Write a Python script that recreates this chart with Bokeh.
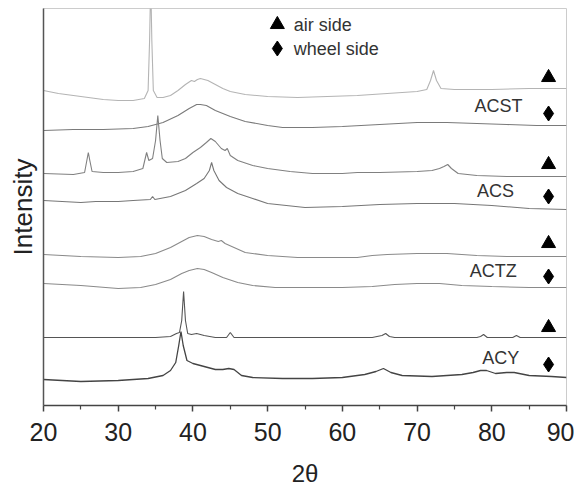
from bokeh.plotting import figure
from bokeh.models import Range1d, FixedTicker
from bokeh.embed import file_html
from bokeh.resources import INLINE
from bokeh.core.properties import value

# ---- data (2theta, intensity in arbitrary offset units) ----
acst_air_x = [20, 22, 25, 28, 30, 32, 33.5, 34.0, 34.2, 34.35, 34.5, 34.7, 35.2, 36, 37, 38, 39, 39.8, 40.2, 40.6, 41, 41.5, 42, 43, 44, 45, 47, 50, 54, 58, 62, 66, 70, 71.3, 71.8, 72.2, 72.6, 73.2, 75, 80, 85, 90]
acst_air_y = [315, 312, 309, 306, 305, 305, 307, 315, 365, 425, 365, 315, 308, 308, 310, 315, 321, 325, 324, 326, 327, 326, 325, 321, 317, 314, 311, 309, 308, 309, 310, 312, 314, 316, 325, 335, 325, 317, 316, 316, 317, 317]

acst_wheel_x = [20, 24, 28, 32, 34, 36, 38, 39.5, 40.5, 41, 41.8, 43, 45, 47, 50, 52, 56, 60, 65, 70, 74, 78, 82, 86, 90]
acst_wheel_y = [275, 276, 276, 277, 279, 283, 290, 297, 301, 301, 300, 295, 289, 284, 280, 278, 278, 279, 281, 283, 283, 282, 281, 280, 280]

acs_air_x = [20, 24, 25.5, 25.8, 26.0, 26.2, 26.5, 28, 30, 32, 33.3, 33.8, 34.1, 34.6, 35.0, 35.3, 35.6, 35.9, 36.5, 38, 39, 40, 41, 41.8, 42.4, 43, 43.8, 44.3, 44.6, 45, 46, 48, 50, 53, 56, 60, 62, 65, 70, 72, 73, 73.6, 74.1, 74.6, 75.5, 78, 82, 86, 90]
acs_air_y = [232, 231, 233, 245, 253, 245, 234, 233, 233, 234, 237, 253, 245, 247, 265, 290, 265, 247, 243, 244, 247, 253, 258, 263, 267, 264, 257, 255, 257, 250, 245, 240, 237, 234, 232, 232, 233, 233, 234, 235, 237, 239, 241, 237, 232, 230, 229, 229, 229]

acs_wheel_x = [20, 25, 27, 30, 32, 34.3, 34.6, 34.9, 37, 39, 40.5, 41.5, 42.2, 42.5, 42.8, 43.5, 44.5, 46, 48, 50, 55, 60, 65, 70, 75, 80, 85, 90]
acs_wheel_y = [205, 203, 204, 204, 205, 206, 209, 206, 209, 215, 222, 227, 235, 243, 235, 225, 218, 212, 207, 202, 198, 199, 201, 202, 202, 200, 197, 196]

actz_air_x = [20, 25, 30, 33, 35, 37, 38.5, 39.5, 40.6, 41.5, 42.5, 43.4, 43.8, 44.3, 45.5, 47, 50, 54, 58, 62, 64, 66, 70, 74, 78, 82, 86, 90]
actz_air_y = [151, 149, 148, 149, 152, 158, 164, 168, 170, 169, 166, 164, 165, 162, 158, 153, 150, 148, 148, 148, 150, 151, 152, 152, 150, 149, 149, 149]

actz_wheel_x = [20, 25, 30, 33, 35, 37, 38.5, 39.5, 40.6, 41.5, 42.5, 44, 46, 48, 51, 55, 60, 64, 67, 70, 73, 76, 80, 85, 90]
actz_wheel_y = [122, 120, 117, 118, 121, 126, 132, 135, 137, 136, 133, 128, 123, 120, 118, 118, 118, 119, 121, 122, 122, 120, 119, 118, 118]

acy_air_x = [20, 25, 30, 35, 37, 37.8, 38.2, 38.5, 38.75, 39.0, 39.3, 39.8, 40.5, 41.5, 43, 44.5, 45.0, 45.5, 48, 55, 60, 64, 65.3, 65.8, 66.3, 67, 72, 78, 78.5, 78.9, 79.4, 82.8, 83.3, 83.8, 87, 90]
acy_air_y = [68, 68, 68, 68, 69, 72, 73, 85, 114, 85, 72, 71, 72, 70, 68, 68, 73, 68, 68, 68, 68, 68, 70, 72, 69, 68, 68, 68, 69, 71, 68, 68, 70, 68, 68, 68]

acy_wheel_x = [20, 25, 30, 34, 36, 37, 37.7, 38.1, 38.4, 38.7, 39.2, 40, 41, 42, 43, 44, 44.8, 45.5, 46.5, 48, 52, 56, 60, 63, 64.5, 65.5, 66.5, 68, 72, 76, 77.5, 78.5, 79.3, 80.5, 82, 83, 85, 88, 90]
acy_wheel_y = [26, 24, 25, 27, 30, 35, 43, 60, 74, 60, 45, 42, 40, 38, 36, 36, 37, 36, 30, 28, 27, 27, 28, 31, 34, 37, 33, 30, 29, 31, 33, 35, 35, 32, 33, 33, 30, 29, 28]

sample_names = ["ACST", "ACS", "ACTZ", "ACY"]
sample_label_x = [80.9, 80.5, 80.2, 81.2]
sample_label_y = [300, 215, 135, 48]

marker_x = 87.6
air_marker_y = [328, 241, 162, 78]
wheel_marker_y = [292, 209, 129, 41]

legend_labels = ["air side", "wheel side"]
legend_marker_x = 51.3
legend_text_x = 53.5
legend_y = [381, 357]

x_ticks = [20, 30, 40, 50, 60, 70, 80, 90]
x_minor_ticks = [25, 35, 45, 55, 65, 75, 85]

FONT = "Liberation Sans"

p = figure(width=574, height=488, frame_width=523, frame_height=397,
           min_border_left=43, min_border_right=8, min_border_top=8, min_border_bottom=83,
           x_range=Range1d(20, 90), y_range=Range1d(0, 397),
           output_backend="svg", toolbar_location=None, tools="")

p.grid.visible = False
p.outline_line_color = "#cccccc"
p.outline_line_width = 1
p.background_fill_color = "white"
p.border_fill_color = "white"

# x axis
xa = p.xaxis[0]
xa.ticker = FixedTicker(ticks=x_ticks, minor_ticks=x_minor_ticks)
xa.axis_line_color = "#444444"
xa.axis_line_width = 1.5
xa.major_tick_line_color = "#444444"
xa.minor_tick_line_color = "#444444"
xa.major_tick_line_width = 1.5
xa.minor_tick_line_width = 1.2
xa.major_tick_out = 6
xa.major_tick_in = 0
xa.minor_tick_out = 4
xa.minor_tick_in = 0
xa.major_label_text_font = FONT
xa.major_label_text_font_size = "25px"
xa.major_label_text_color = "#222222"
xa.major_label_standoff = 11
xa.axis_label = "2θ"
xa.axis_label_text_font = FONT
xa.axis_label_text_font_style = "normal"
xa.axis_label_text_font_size = "24px"
xa.axis_label_text_color = "#222222"
xa.axis_label_standoff = 16

# y axis
ya = p.yaxis[0]
ya.ticker = FixedTicker(ticks=[])
ya.axis_line_color = "#555555"
ya.axis_line_width = 1.5
ya.major_tick_out = 0
ya.major_tick_in = 0
ya.minor_tick_out = 0
ya.minor_tick_in = 0
ya.major_label_text_font_size = "0px"
ya.axis_label = "Intensity"
ya.axis_label_text_font = FONT
ya.axis_label_text_font_style = "normal"
ya.axis_label_text_font_size = "26px"
ya.axis_label_text_color = "#222222"
ya.axis_label_standoff = 6

# traces
p.line(acst_air_x, acst_air_y, line_color="#b4b4b4", line_width=1.1)
p.line(acst_wheel_x, acst_wheel_y, line_color="#7a7a7a", line_width=1.1)
p.line(acs_air_x, acs_air_y, line_color="#808080", line_width=1.1)
p.line(acs_wheel_x, acs_wheel_y, line_color="#777777", line_width=1.1)
p.line(actz_air_x, actz_air_y, line_color="#8a8a8a", line_width=1.1)
p.line(actz_wheel_x, actz_wheel_y, line_color="#8a8a8a", line_width=1.1)
p.line(acy_air_x, acy_air_y, line_color="#555555", line_width=1.1)
p.line(acy_wheel_x, acy_wheel_y, line_color="#444444", line_width=1.3)

# side markers
p.scatter([marker_x] * len(air_marker_y), air_marker_y, marker="triangle", size=14,
          fill_color="black", line_color="black")
p.scatter([marker_x] * len(wheel_marker_y), wheel_marker_y, marker="diamond", size=15,
          fill_color="black", line_color="black")

# sample labels
p.text(sample_label_x, sample_label_y, text=sample_names, text_font=value(FONT),
       text_font_size="18px", text_color="#333333", text_align="center", text_baseline="middle")

# legend
p.scatter([legend_marker_x], [legend_y[0]], marker="triangle", size=14, fill_color="black", line_color="black")
p.scatter([legend_marker_x], [legend_y[1]], marker="diamond", size=15, fill_color="black", line_color="black")
p.text([legend_text_x, legend_text_x], legend_y, text=legend_labels, text_font=value(FONT),
       text_font_size="18px", text_color="#333333", text_align="left", text_baseline="middle")

open("out.html", "w").write(file_html(p, INLINE))
